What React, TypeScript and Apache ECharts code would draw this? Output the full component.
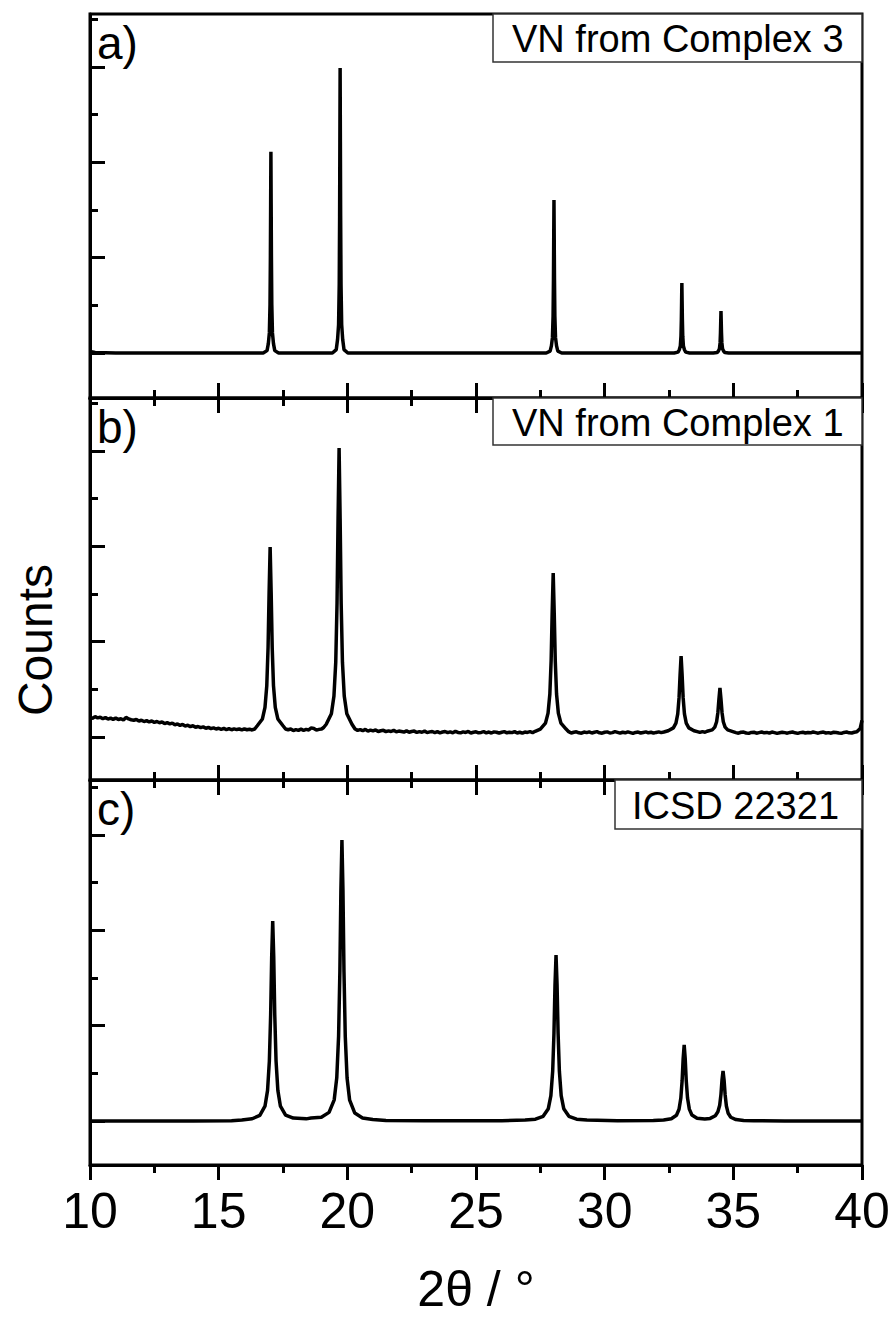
import React, { useEffect, useRef } from "react";
import * as echarts from "echarts";

// ---- data (2θ in degrees, counts in arbitrary units) ----
const xTickValues = [10, 15, 20, 25, 30, 35, 40];
const yMajorTicks = [0, 1000, 2000, 3000];
const yMinorTicks = [500, 1500, 2500, 3500];
const panelLetters = ["a)", "b)", "c)"];
const sampleNames = ["VN from Complex 3", "VN from Complex 1", "ICSD 22321"];

const patternA: [number, number][] = [
  [10.0, 15], [10.2, 5], [11, 0], [13, 0], [15, 0], [16.73, 0],
  [16.88, 25], [16.93, 99], [16.97, 211], [16.995, 506], [17.01, 1013], [17.02, 1561], [17.03, 2110],
  [17.04, 1561], [17.05, 1013], [17.065, 506], [17.09, 211], [17.13, 99], [17.18, 25], [17.33, 0],
  [19.42, 0], [19.57, 36], [19.62, 141], [19.66, 299], [19.685, 718], [19.7, 1435], [19.71, 2213], [19.72, 2990],
  [19.73, 2213], [19.74, 1435], [19.755, 718], [19.78, 299], [19.82, 141], [19.87, 36], [20.02, 0],
  [22, 0], [25, 0], [27.73, 0],
  [27.88, 19], [27.93, 75], [27.97, 161], [27.995, 385], [28.01, 770], [28.02, 1188], [28.03, 1605],
  [28.04, 1188], [28.05, 770], [28.065, 385], [28.09, 161], [28.13, 75], [28.18, 19], [28.33, 0],
  [30, 0], [32.7, 0],
  [32.85, 9], [32.9, 34], [32.94, 73], [32.965, 176], [32.98, 352], [32.99, 543], [33.0, 734],
  [33.01, 543], [33.02, 352], [33.035, 176], [33.06, 73], [33.1, 34], [33.15, 9], [33.3, 0],
  [34.22, 0], [34.37, 5], [34.42, 21], [34.46, 44], [34.485, 106], [34.5, 212], [34.51, 326], [34.52, 441],
  [34.53, 326], [34.54, 212], [34.555, 106], [34.58, 44], [34.62, 21], [34.67, 5], [34.82, 0],
  [37, 0], [40, 0],
];

const patternB: [number, number][] = [
  [10.0, 205], [10.1, 196], [10.2, 214], [10.3, 200], [10.4, 208], [10.5, 192], [10.6, 203], [10.7, 188],
  [10.8, 198], [10.9, 185], [11.0, 200], [11.1, 184], [11.2, 192], [11.3, 178], [11.4, 206], [11.5, 190],
  [11.6, 181], [11.7, 176], [11.8, 184], [11.9, 168], [12.0, 176], [12.1, 162], [12.2, 172], [12.3, 158],
  [12.4, 168], [12.5, 154], [12.6, 163], [12.7, 150], [12.8, 158], [12.9, 141], [13.0, 150], [13.1, 138],
  [13.2, 146], [13.3, 128], [13.4, 137], [13.5, 122], [13.6, 132], [13.7, 115], [13.8, 124], [13.9, 108],
  [14.0, 118], [14.1, 102], [14.2, 110], [14.3, 98], [14.4, 106], [14.5, 92], [14.6, 100], [14.7, 88],
  [14.8, 96], [14.9, 84], [15.0, 92], [15.1, 80], [15.2, 90], [15.3, 78], [15.4, 88], [15.5, 76],
  [15.6, 86], [15.7, 78], [15.8, 84], [15.9, 74], [16.0, 86], [16.1, 76], [16.2, 82], [16.3, 74], [16.4, 84],
  [16.5, 118], [16.7, 189], [16.8, 310], [16.87, 539], [16.92, 941], [16.96, 1515], [17.0, 1993],
  [17.04, 1515], [17.08, 941], [17.13, 539], [17.2, 310], [17.3, 189], [17.5, 118],
  [17.6, 84], [17.7, 76], [17.8, 84], [17.9, 68], [18.0, 78], [18.1, 70], [18.2, 82], [18.3, 70],
  [18.4, 80], [18.5, 74], [18.6, 96], [18.7, 90], [18.8, 72], [18.9, 80], [19.0, 84], [19.08, 100],
  [19.18, 134], [19.38, 244], [19.48, 430], [19.55, 785], [19.6, 1406], [19.64, 2293], [19.68, 3032],
  [19.72, 2293], [19.76, 1406], [19.81, 785], [19.88, 430], [19.98, 244], [20.18, 134],
  [20.3, 84], [20.4, 70], [20.5, 78], [20.6, 66], [20.7, 80], [20.8, 62], [20.9, 72], [21.0, 64],
  [21.1, 74], [21.2, 58], [21.3, 66], [21.4, 70], [21.5, 56], [21.6, 64], [21.7, 58], [21.8, 70],
  [21.9, 54], [22.0, 62], [22.2, 52], [22.3, 64], [22.4, 50], [22.5, 58], [22.6, 62], [22.7, 48],
  [22.8, 56], [22.9, 50], [23.0, 62], [23.1, 46], [23.2, 54], [23.3, 58], [23.4, 46], [23.5, 56],
  [23.6, 44], [23.7, 52], [23.8, 58], [23.9, 46], [24.0, 54], [24.1, 44], [24.2, 60], [24.3, 48],
  [24.4, 44], [24.5, 54], [24.6, 48], [24.7, 58], [24.8, 42], [24.9, 50], [25.0, 55], [25.1, 44],
  [25.2, 48], [25.3, 56], [25.4, 44], [25.5, 52], [25.6, 42], [25.7, 54], [25.8, 50], [25.9, 40],
  [26.0, 50], [26.1, 56], [26.2, 44], [26.3, 50], [26.4, 46], [26.5, 56], [26.6, 42], [26.7, 50],
  [26.8, 40], [26.9, 52], [27.0, 48], [27.1, 56], [27.2, 46], [27.3, 60],
  [27.5, 83], [27.7, 145], [27.8, 250], [27.87, 451], [27.92, 802], [27.96, 1303], [28.0, 1720],
  [28.04, 1303], [28.08, 802], [28.13, 451], [28.2, 250], [28.3, 145], [28.5, 83],
  [28.6, 56], [28.7, 42], [28.8, 50], [28.9, 55], [29.0, 44], [29.1, 40], [29.2, 52], [29.3, 46],
  [29.4, 54], [29.5, 42], [29.6, 50], [29.7, 56], [29.8, 44], [29.9, 40], [30.0, 50], [30.1, 54],
  [30.2, 42], [30.3, 46], [30.4, 56], [30.5, 48], [30.6, 40], [30.7, 50], [30.8, 44], [30.9, 54],
  [31.0, 46], [31.1, 38], [31.2, 48], [31.3, 52], [31.4, 42], [31.5, 48], [31.6, 54], [31.7, 44],
  [31.8, 50], [31.9, 40], [32.0, 48], [32.1, 54], [32.2, 46], [32.3, 52],
  [32.47, 66], [32.67, 96], [32.77, 146], [32.84, 242], [32.89, 410], [32.93, 650], [32.97, 850],
  [33.01, 650], [33.05, 410], [33.1, 242], [33.17, 146], [33.27, 96], [33.47, 66],
  [33.6, 56], [33.7, 48], [33.8, 56], [33.9, 50], [33.98, 60],
  [34.18, 75], [34.28, 104], [34.35, 160], [34.4, 258], [34.44, 398], [34.48, 514],
  [34.52, 398], [34.56, 258], [34.61, 160], [34.68, 104], [34.78, 75], [34.98, 57],
  [35.1, 46], [35.2, 40], [35.3, 50], [35.4, 52], [35.5, 42], [35.6, 38], [35.7, 48], [35.8, 50],
  [35.9, 40], [36.0, 46], [36.1, 52], [36.2, 44], [36.3, 48], [36.4, 40], [36.5, 52], [36.6, 46],
  [36.7, 38], [36.8, 44], [36.9, 50], [37.0, 46], [37.1, 40], [37.2, 48], [37.3, 52], [37.4, 44],
  [37.5, 38], [37.6, 46], [37.7, 50], [37.8, 42], [37.9, 48], [38.0, 44], [38.1, 52], [38.2, 46],
  [38.3, 40], [38.4, 48], [38.5, 52], [38.6, 42], [38.7, 46], [38.8, 40], [38.9, 50], [39.0, 48],
  [39.1, 42], [39.2, 38], [39.3, 48], [39.4, 52], [39.5, 44], [39.6, 42], [39.7, 50], [39.8, 55],
  [39.93, 90], [40.0, 175],
];

const patternC: [number, number][] = [
  [10, 0], [14, 0], [15.5, 3], [15.9, 10], [16.3, 23], [16.6, 59], [16.8, 155], [16.9, 321],
  [16.97, 629], [17.02, 1112], [17.06, 1720], [17.1, 2098], [17.14, 1720], [17.18, 1112], [17.23, 629],
  [17.3, 321], [17.4, 155], [17.6, 62], [17.9, 30], [18.4, 22], [18.59, 30], [18.99, 40], [19.29, 90],
  [19.49, 222], [19.59, 455], [19.66, 888], [19.71, 1565], [19.75, 2420], [19.79, 2948], [19.83, 2417],
  [19.87, 1562], [19.92, 884], [19.99, 451], [20.09, 218], [20.29, 83], [20.59, 32], [20.99, 15],
  [21.5, 6], [23, 2], [26, 3], [26.91, 9], [27.31, 19], [27.61, 49], [27.81, 129], [27.91, 266],
  [27.98, 522], [28.03, 923], [28.07, 1428], [28.11, 1741], [28.15, 1428], [28.19, 923], [28.24, 522],
  [28.31, 266], [28.41, 129], [28.61, 49], [28.91, 19], [29.31, 9], [30.5, 3], [31.89, 6], [32.29, 11],
  [32.59, 24], [32.79, 60], [32.89, 123], [32.96, 240], [33.01, 422], [33.05, 654], [33.09, 797],
  [33.13, 654], [33.17, 422], [33.22, 240], [33.29, 124], [33.39, 62], [33.59, 28], [33.89, 20],
  [34.1, 27], [34.3, 55], [34.4, 96], [34.47, 165], [34.52, 282], [34.56, 432], [34.6, 524],
  [34.64, 430], [34.68, 278], [34.73, 157], [34.8, 80], [34.9, 39], [35.1, 15], [35.4, 6], [35.8, 3],
  [37, 0], [40, 0],
];

// ---- layout ----
const FONT = '"Liberation Sans", Arial, Helvetica, sans-serif';
const LEFT = 90;
const WIDTH = 772;
const panels = [
  { top: 14, height: 384, min: -472, max: 3556 },
  { top: 398, height: 382, min: -451, max: 3556 },
  { top: 780, height: 385, min: -462, max: 3577 },
];
const patterns = [patternA, patternB, patternC];
const boxes = [
  { x: 493, w: 369, h: 48, tx: 512 },
  { x: 493, w: 369, h: 47, tx: 512 },
  { x: 615, w: 247, h: 49, tx: 632 },
];

const black = "#000";

function xAxis(gridIndex: number, position: string, labels: boolean) {
  return {
    type: "value",
    gridIndex,
    position,
    min: 10,
    max: 40,
    interval: 5,
    axisLine: { show: true, onZero: false, lineStyle: { color: black, width: 3 } },
    axisTick: { show: true, inside: false, length: 15, lineStyle: { color: black, width: 3 } },
    minorTick: { show: true, splitNumber: 2, length: 8, lineStyle: { color: black, width: 3 } },
    splitLine: { show: false },
    minorSplitLine: { show: false },
    axisLabel: labels
      ? {
          show: true,
          customValues: xTickValues,
          color: black,
          fontSize: 50,
          fontFamily: FONT,
          margin: 21,
        }
      : { show: false },
    name: labels ? "2θ / °" : "",
    nameLocation: "middle",
    nameGap: 99,
    nameTextStyle: { color: black, fontSize: 50, fontFamily: FONT },
  };
}

function yAxis(gridIndex: number, min: number, max: number, minor: boolean) {
  return {
    type: "value",
    gridIndex,
    position: "left",
    min,
    max,
    axisLine: { show: !minor, onZero: false, lineStyle: { color: black, width: 3 } },
    axisTick: {
      show: true,
      inside: true,
      length: minor ? 8 : 15,
      customValues: minor ? yMinorTicks : yMajorTicks,
      lineStyle: { color: black, width: 3 },
    },
    axisLabel: { show: false },
    splitLine: { show: false },
  };
}

export default function App() {
  const ref = useRef<HTMLDivElement>(null);

  useEffect(() => {
    if (!ref.current) return;
    const chart = echarts.init(ref.current, null, { renderer: "svg" });

    const graphic: any[] = [];
    panels.forEach((p, i) => {
      const b = boxes[i];
      graphic.push({
        type: "rect",
        shape: { x: b.x, y: p.top, width: b.w, height: b.h },
        style: { fill: "#fff", stroke: "#333", lineWidth: 1.5 },
        z: 10,
      });
      graphic.push({
        type: "text",
        x: b.tx,
        y: p.top + b.h / 2 + 1,
        style: {
          text: sampleNames[i],
          font: `38px ${FONT}`,
          fill: black,
          align: "left",
          verticalAlign: "middle",
        },
        z: 11,
      });
      graphic.push({
        type: "text",
        x: 97,
        y: p.top + 29,
        style: {
          text: panelLetters[i],
          font: `46px ${FONT}`,
          fill: black,
          align: "left",
          verticalAlign: "middle",
        },
        z: 11,
      });
    });
    graphic.push({
      type: "text",
      x: 35,
      y: 640,
      rotation: Math.PI / 2,
      style: {
        text: "Counts",
        font: `48px ${FONT}`,
        fill: black,
        align: "center",
        verticalAlign: "middle",
      },
      z: 11,
    });

    const option: any = {
      animation: false,
      backgroundColor: "#fff",
      grid: panels.map((p) => ({
        left: LEFT,
        top: p.top,
        width: WIDTH,
        height: p.height,
        show: true,
        borderColor: black,
        borderWidth: 3,
        backgroundColor: "transparent",
      })),
      xAxis: [
        xAxis(0, "bottom", false),
        xAxis(1, "bottom", false),
        xAxis(2, "bottom", true),
        xAxis(1, "top", false),
        xAxis(2, "top", false),
      ],
      yAxis: [
        yAxis(0, panels[0].min, panels[0].max, false),
        yAxis(0, panels[0].min, panels[0].max, true),
        yAxis(1, panels[1].min, panels[1].max, false),
        yAxis(1, panels[1].min, panels[1].max, true),
        yAxis(2, panels[2].min, panels[2].max, false),
        yAxis(2, panels[2].min, panels[2].max, true),
      ],
      series: patterns.map((data, i) => ({
        type: "line",
        xAxisIndex: i,
        yAxisIndex: i * 2,
        data,
        showSymbol: false,
        symbol: "none",
        lineStyle: { color: black, width: 3.5 },
        clip: true,
      })),
      graphic,
    };

    chart.setOption(option);
    return () => chart.dispose();
  }, []);

  return (
    <div
      ref={ref}
      style={{ position: "absolute", left: 0, top: 0, width: 893, height: 1323 }}
    />
  );
}
